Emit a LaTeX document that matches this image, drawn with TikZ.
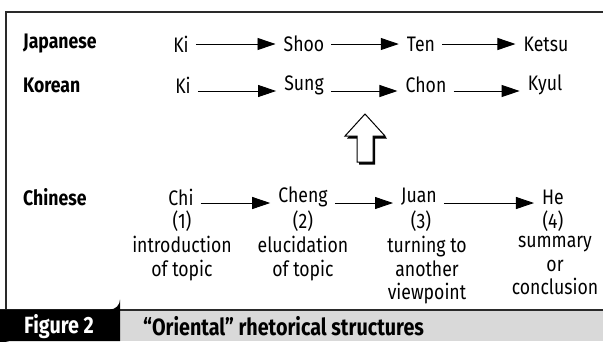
\documentclass[tikz,border=0pt]{standalone}
\usepackage{fontspec}
\setmainfont{Fira Sans}[FakeStretch=0.84]
\usetikzlibrary{arrows.meta}
\definecolor{framegray}{HTML}{2A2A2A}
\definecolor{bargray}{HTML}{D9D9D9}
\begin{document}
\begin{tikzpicture}[x=1pt,y=-1pt,
  word/.style={inner sep=0pt,font=\fontsize{21}{23.5}\selectfont},
  lang/.style={word,anchor=west,font=\fontsize{21}{23.5}\selectfont\bfseries},
  capt/.style={inner sep=0pt,anchor=west,font=\fontsize{23.5}{25}\selectfont\bfseries},
  note/.style={word,align=center,anchor=north},
  flow/.style={line width=0.9pt,-{Triangle[length=18pt,width=12pt]},shorten <=7pt,shorten >=8pt}]
\useasboundingbox (0,0) rectangle (603,341);
% outer frame: top and left edges
\draw[framegray,line width=1.2pt] (603,12) -- (6,12) -- (6,310);
% caption bar
\fill[bargray] (0,310) rectangle (603,341);
\draw[framegray,line width=1.5pt] (0,310) -- (603,310);
\fill[black] (0,309.5) -- (110,309.5) arc[start angle=90,end angle=0,radius=10] -- (120,341)
  -- (10,341) arc[start angle=270,end angle=180,radius=10] -- cycle;
\node[capt,text=white] (fig) at (24,326.5) {Figure 2};
\node[capt] (cap) at (143,326.5) {“Oriental” rhetorical structures};

% Japanese
\node[lang] (jp) at (23,44) {Japanese};
\node[word] (jki) at (181,44) {Ki};
\node[word] (jshoo) at (304,44) {Shoo};
\node[word] (jten) at (421,44) {Ten};
\node[word] (jketsu) at (546,44) {Ketsu};
\draw[flow] (jki) -- (jshoo);
\draw[flow] (jshoo) -- (jten);
\draw[flow] (jten) -- (jketsu);

% Korean
\node[lang] (kr) at (23,85) {Korean};
\node[word] (kki) at (183,85) {Ki};
\node[word] (ksung) at (304,85) {Sung};
\node[word] (kchon) at (426,85) {Chon};
\node[word] (kkyul) at (545,85) {Kyul};
\draw[flow] ([yshift=-6pt]kki.east) -- ([yshift=-6pt]ksung.west);
\draw[flow] ([yshift=-6pt]ksung.east) -- ([yshift=-6pt]kchon.west);
\draw[flow] ([yshift=-6pt]kchon.east) -- ([yshift=-6pt]kkyul.west);

% hollow block arrow with drop shadow
\fill[black,shift={(2,2.5)}] (365,114) -- (385,136) -- (373,136) -- (373,162) -- (357,162) -- (357,136) -- (345,136) -- cycle;
\draw[fill=white,line width=1pt,line join=miter] (365,114) -- (385,136) -- (373,136) -- (373,162) -- (357,162) -- (357,136) -- (345,136) -- cycle;

% Chinese
\node[lang] (cn) at (23,197) {Chinese};
\node[word] (cchi) at (181,197) {Chi};
\node[word] (ccheng) at (303,197) {Cheng};
\node[word] (cjuan) at (419,197) {Juan};
\node[word] (che) at (553,197) {He};
\draw[flow] ([yshift=-6pt]cchi.east) -- ([yshift=-6pt]ccheng.west);
\draw[flow] ([yshift=-6pt]ccheng.east) -- ([yshift=-6pt]cjuan.west);
\draw[flow] ([yshift=-6pt]cjuan.east) -- ([yshift=-6pt]che.west);
\node[word] (n1) at (182,221) {(1)};
\node[word] (n2) at (303,221) {(2)};
\node[word] (n3) at (421,221) {(3)};
\node[word] (n4) at (553,221) {(4)};
\node[note] (d1) at (182,236) {introduction\\of topic};
\node[note] (d2) at (303,236) {elucidation\\of topic};
\node[note] (d3) at (427,236) {turning to\\another\\viewpoint};
\node[note] (d4) at (555,236) {summary\\or\\conclusion};
\end{tikzpicture}
\end{document}
